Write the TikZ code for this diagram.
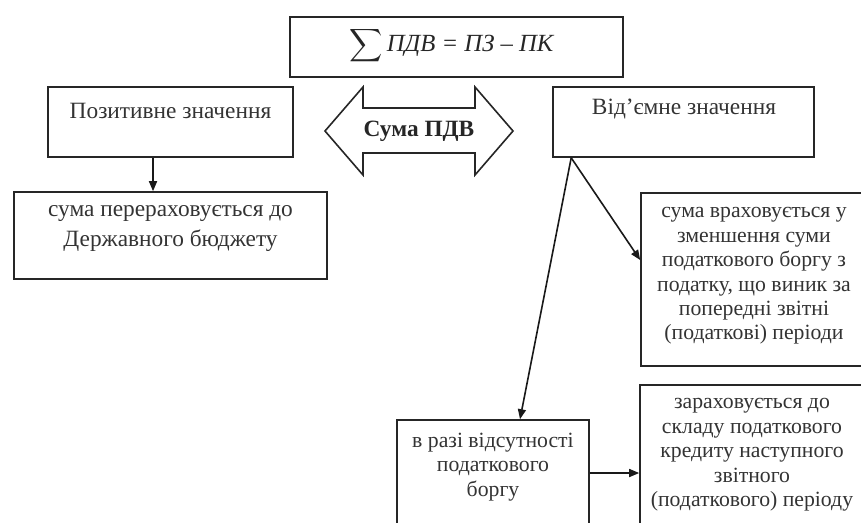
\documentclass[tikz,border=0pt]{standalone}
\usepackage{amsmath}
\usepackage{fontspec}
\setmainfont{Liberation Serif}
\usetikzlibrary{arrows.meta}
\begin{document}
\begin{tikzpicture}[x=0.75pt,y=-0.75pt,
  box/.style={draw=black!85,line width=1.2pt,inner sep=0pt},
  txt/.style={align=center,text=black!80,font=\fontsize{16.3}{18.3}\selectfont,inner sep=0pt},
  bigtxt/.style={txt,font=\fontsize{17.5}{22.5}\selectfont},
  arr/.style={draw=black!90,line width=1.2pt,-{Triangle[length=7.5pt,width=6pt]}}]
\useasboundingbox (0,0) rectangle (861,522);
\clip (0,0) rectangle (861,522);
% boxes
\node[box,minimum width=333*0.75pt,minimum height=60*0.75pt] (top) at (456.5,47) {};
\node[txt,font=\fontsize{18.5}{22}\selectfont,text=black!85] (formula) at (452,46) {$\displaystyle\sum$\,\textit{ПДВ = ПЗ – ПК}};
\node[box,minimum width=245*0.75pt,minimum height=70*0.75pt] (pos) at (170.5,122) {};
\node[bigtxt] (postxt) at (170.5,111) {Позитивне значення};
\node[box,minimum width=261*0.75pt,minimum height=70*0.75pt] (neg) at (683.5,122) {};
\node[bigtxt] (negtxt) at (684,109) {Від’ємне значення};
\node[box,minimum width=313*0.75pt,minimum height=87*0.75pt] (budget) at (170.5,235.5) {};
\node[bigtxt] (budgettxt) at (170.5,229) {сума перераховується до\\Державного бюджету};
\node[box,minimum width=226*0.75pt,minimum height=173*0.75pt] (reduce) at (754,279.5) {};
\node[txt] (reducetxt) at (754,276) {сума враховується у\\зменшення суми\\податкового боргу з\\податку, що виник за\\попередні звітні\\(податкові) періоди};
\node[box,minimum width=192*0.75pt,minimum height=110*0.75pt] (absent) at (493,475) {};
\node[txt] (absenttxt) at (493,467) {в разі відсутності\\податкового\\боргу};
\node[box,minimum width=227*0.75pt,minimum height=142*0.75pt] (credit) at (753.5,456) {};
\node[txt] (credittxt) at (752,455) {зараховується до\\складу податкового\\кредиту наступного\\звітного\\(податкового) періоду};
% double arrow
\draw[draw=black!85,line width=1.2pt,line join=miter] (325,131) -- (363,87) -- (363,108) -- (475,108) -- (475,87) -- (513,131) -- (475,175) -- (475,153) -- (363,153) -- (363,175) -- cycle;
\node[txt,font=\bfseries\fontsize{17.5}{20}\selectfont,text=black!85] (sumlabel) at (419,131) {Сума ПДВ};
% connectors
\coordinate (negfoot) at ([xshift=19*0.75pt]neg.south west);
\draw[arr] ([xshift=-17.5*0.75pt]pos.south) -- ([xshift=-17.5*0.75pt]budget.north);
\draw[arr] (negfoot) -- ([xshift=27*0.75pt]absent.north);
\draw[arr] (negfoot) -- ([yshift=14.6pt]reduce.west);
\draw[arr] ([yshift=1.5pt]absent.east) -- ([yshift=1.5pt]absent.east -| credit.west);
\end{tikzpicture}
\end{document}
